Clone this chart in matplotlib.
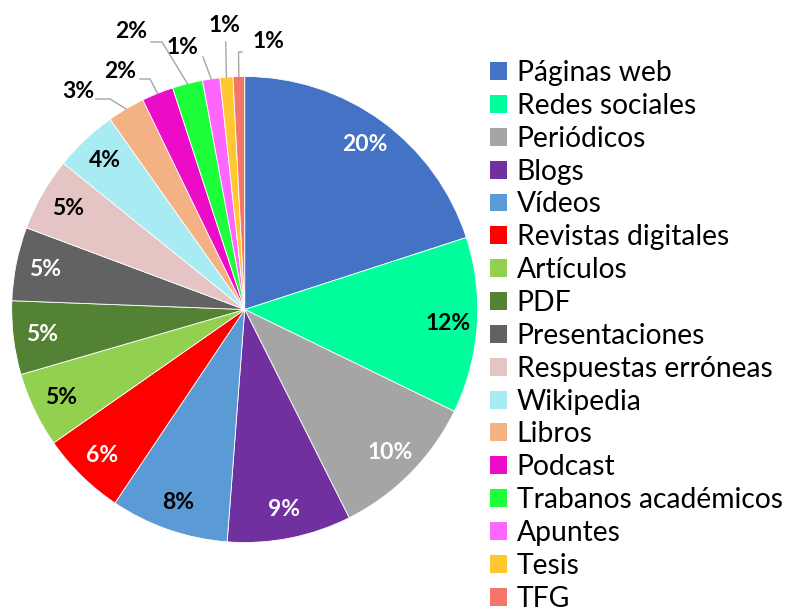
import numpy as np
import matplotlib
matplotlib.use("Agg")
import matplotlib.pyplot as plt
from matplotlib.patches import Patch

plt.rcParams["font.family"] = ["Lato", "DejaVu Sans"]

categories = ["Páginas web", "Redes sociales", "Periódicos", "Blogs", "Vídeos",
              "Revistas digitales", "Artículos", "PDF", "Presentaciones",
              "Respuestas erróneas", "Wikipedia", "Libros", "Podcast",
              "Trabanos académicos", "Apuntes", "Tesis", "TFG"]
shares = [20.0, 12.2, 10.4, 8.6, 8.2, 5.9, 5.2, 5.1, 5.1, 5.1, 4.4,
          2.6, 2.2, 2.1, 1.2, 0.9, 0.8]

colors = ["#4472C4", "#00FF9C", "#A5A5A5", "#7030A0", "#5B9BD5", "#FF0000",
          "#92D050", "#548235", "#626262", "#E5C4C4", "#A8EBF3", "#F4B183",
          "#EC0CC8", "#1EFF3C", "#FF66FF", "#FFC830", "#F4756A"]
label_colors = ["white", "black", "white", "white", "black", "white", "black",
                "white", "white", "black", "black"]

# pie geometry in pixels, and outside label spots for the small slices
R = 233.0
CX, CY = 244.7, 309.5


def px(x, y):
    return ((x - CX) / R, (CY - y) / R)


outside = {
    11: (px(78, 91), [px(96, 99), px(110, 99)]),
    12: (px(120, 71), [px(140, 79), px(150, 79)]),
    13: (px(131, 31), [px(151, 42), px(162, 42)]),
    14: (px(182, 47), [px(203, 57)]),
    15: (px(225, 25), [px(225.7, 42)]),
    16: (px(268, 41), [px(242, 52), px(238.5, 52)]),
}

W, H = 785, 615
fig = plt.figure(figsize=(W / 100, H / 100), dpi=100)
ax = fig.add_axes([(CX - R) / W, (H - CY - R) / H, 2 * R / W, 2 * R / H])

wedges, _ = ax.pie(shares, colors=colors, startangle=90, counterclock=False,
                   radius=1.0, wedgeprops=dict(linewidth=0.6, edgecolor="white"))
ax.set_xlim(-1, 1)
ax.set_ylim(-1, 1)
ax.set_aspect("equal")
ax.axis("off")

for i, w in enumerate(wedges):
    mid = np.deg2rad((w.theta1 + w.theta2) / 2)
    txt = f"{shares[i]:.0f}%"
    if i in outside:
        (lx, ly), pts = outside[i]
        edge = (np.cos(mid), np.sin(mid))
        xs = [p[0] for p in pts] + [edge[0]]
        ys = [p[1] for p in pts] + [edge[1]]
        ax.plot(xs, ys, color="#A6A6A6", lw=1.0, clip_on=False)
        ax.text(lx, ly, txt, ha="center", va="center", fontsize=16.5,
                fontweight="bold", color="black")
    else:
        r = 0.875
        ax.text(r * np.cos(mid), r * np.sin(mid), txt, ha="center", va="center",
                fontsize=16.5, fontweight="bold", color=label_colors[i])

handles = [Patch(facecolor=c, edgecolor="none") for c in colors]
fig.legend(handles, categories, loc="upper left", bbox_to_anchor=(490 / W, 1 - 60 / H),
           frameon=False, fontsize=20.3, handlelength=0.6, handleheight=0.6,
           handletextpad=0.35, labelspacing=0.243, borderaxespad=0, borderpad=0)

fig.savefig("out.png", dpi=100)
